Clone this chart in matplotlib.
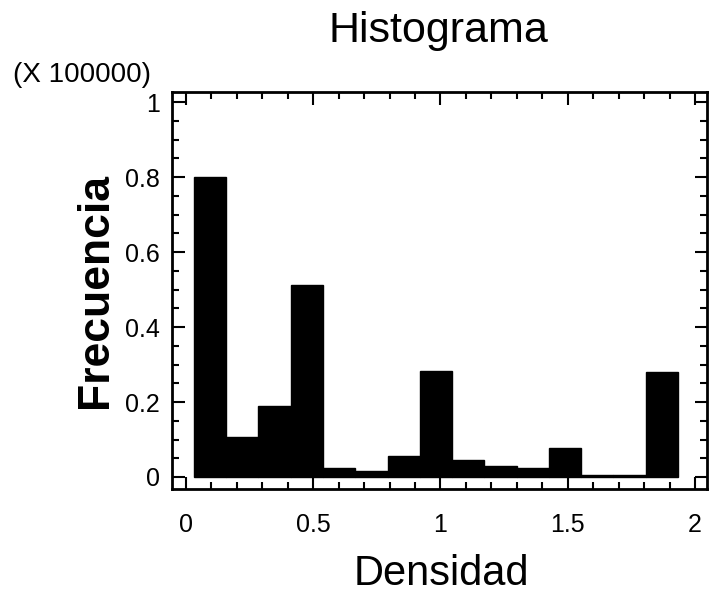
import numpy as np
import matplotlib.pyplot as plt
from matplotlib.ticker import MultipleLocator

plt.rcParams['font.family'] = ['Liberation Sans', 'DejaVu Sans']

# Bordes de las clases y frecuencias (x 100000)
bordes = np.linspace(0.031, 1.933, 16)
frecuencias = [0.80, 0.107, 0.19, 0.512, 0.024, 0.016, 0.056, 0.283,
               0.045, 0.030, 0.024, 0.077, 0.004, 0.004, 0.280]
xticks = [0, 0.5, 1, 1.5, 2]
xlabels = ['0', '0.5', '1', '1.5', '2']
yticks = [0, 0.2, 0.4, 0.6, 0.8, 1]
ylabels = ['0', '0.2', '0.4', '0.6', '0.8', '1']

fig = plt.figure(figsize=(7.09, 5.93), dpi=100)
ax = fig.add_axes([0.2426, 0.1754, 0.7545, 0.6695])

ax.bar(bordes[:-1], frecuencias, width=np.diff(bordes), align='edge',
       color='black', edgecolor='black', linewidth=1)

ax.set_xlim(-0.055, 2.047)
ax.set_ylim(-0.032, 1.027)
ax.xaxis.set_minor_locator(MultipleLocator(0.1))
ax.yaxis.set_minor_locator(MultipleLocator(0.05))
ax.set_xticks(xticks)
ax.set_xticklabels(xlabels)
ax.set_yticks(yticks)
ax.set_yticklabels(ylabels)

ax.tick_params(which='both', direction='in', top=True, right=True,
               labelsize=18, width=1.5)
ax.tick_params(axis='x', pad=17)
ax.tick_params(axis='y', pad=9)
ax.tick_params(which='major', length=9)
ax.tick_params(which='minor', length=5)
for s in ax.spines.values():
    s.set_linewidth(2)

# textos
fig.text(438 / 709, 1 - 42 / 593, 'Histograma', fontsize=31,
         ha='center', va='baseline')
fig.text(441 / 709, 1 - 585 / 593, 'Densidad', fontsize=30,
         ha='center', va='baseline')
fig.text(95 / 709, 1 - 290 / 593, 'Frecuencia', fontsize=32,
         fontweight='bold', rotation=90, ha='center', va='center')
fig.text(13 / 709, 1 - 75 / 593, '(X 100000)', fontsize=20,
         ha='left', va='center')

fig.savefig('out.png', dpi=100)
